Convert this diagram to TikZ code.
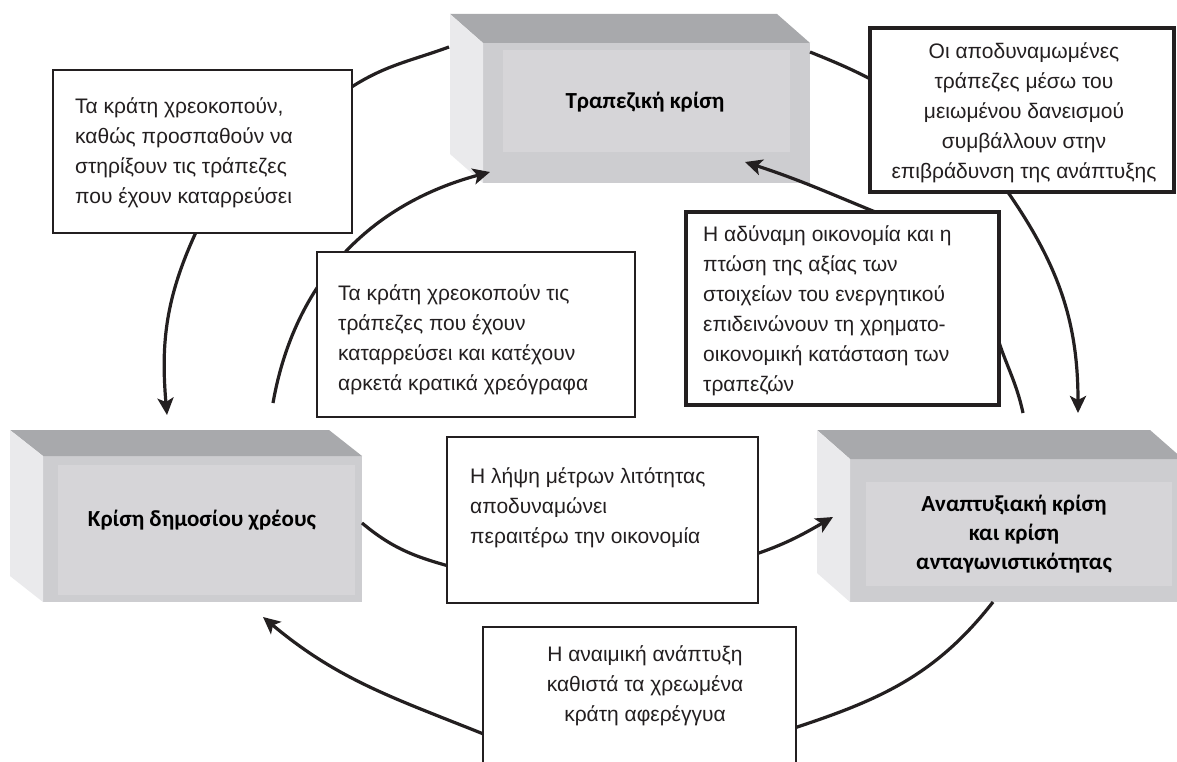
\documentclass[tikz,border=0pt]{standalone}
\usepackage{fontspec}
\setmainfont{Liberation Sans}
\newfontfamily\labelfont{Carlito}
\usetikzlibrary{arrows.meta,calc}
\definecolor{ink}{HTML}{231F20}
\definecolor{facegray}{HTML}{CDCDD0}
\definecolor{innergray}{HTML}{D6D5D8}
\definecolor{topgray}{HTML}{A8A9AC}
\definecolor{sidegray}{HTML}{EAEAEC}
\begin{document}
\begin{tikzpicture}[x=1pt,y=1pt,
  conn/.style={draw=ink, line width=3.2pt},
  arr/.style={conn, -{Stealth[length=17pt,width=16pt,inset=4pt]}},
  frame/.style={draw=ink, fill=white, line width=2.8pt, rectangle, inner sep=0pt, outer sep=0pt},
  thickframe/.style={frame, line width=4.5pt},
  body/.style={font=\fontsize{21}{30}\selectfont, text=ink, inner sep=0pt},
  face/.style={rectangle, fill=facegray, inner sep=0pt, outer sep=0pt},
  crisis/.style={font=\labelfont\bfseries\fontsize{23}{29}\selectfont, text=black, align=center, inner sep=0pt}
]
\path[use as bounding box, fill=white] (0,0) rectangle (1177,-762);

% ---- three crisis blocks (front face, top face, side face, inner panel) ----
\node[face, minimum width=327, minimum height=140] (bank) at (646.5,-113) {};
\fill[topgray] (bank.north west) -- ++(-33,29) -- ($(bank.north east)+(-33,29)$) -- (bank.north east) -- cycle;
\fill[sidegray] (bank.north west) -- ++(-33,29) -- ($(bank.south west)+(-33,29)$) -- (bank.south west) -- cycle;
\fill[innergray] ($(bank.north west)+(20,-7)$) rectangle ($(bank.south east)+(-20,31)$);
\node[crisis] (bankt) at (645,-102) {Τραπεζική κρίση};

\node[face, minimum width=319, minimum height=146] (debt) at (202.5,-529) {};
\fill[topgray] (debt.north west) -- ++(-33,26) -- ($(debt.north east)+(-33,26)$) -- (debt.north east) -- cycle;
\fill[sidegray] (debt.north west) -- ++(-33,26) -- ($(debt.south west)+(-33,26)$) -- (debt.south west) -- cycle;
\fill[innergray] ($(debt.north west)+(15,-9)$) rectangle ($(debt.south east)+(-7,7)$);
\node[crisis] (debtt) at (202,-520) {Κρίση δημοσίου χρέους};

\node[face, minimum width=333, minimum height=143] (growth) at (1016.5,-530.5) {};
\fill[topgray] (growth.north west) -- ++(-33,29) -- ($(growth.north east)+(-33,29)$) -- (growth.north east) -- cycle;
\fill[sidegray] (growth.north west) -- ++(-33,29) -- ($(growth.south west)+(-33,29)$) -- (growth.south west) -- cycle;
\fill[innergray] ($(growth.north west)+(16,-23)$) rectangle ($(growth.south east)+(-11,16)$);
\node[crisis] (growtht) at (1014,-534) {Αναπτυξιακή κρίση\\και κρίση\\ανταγωνιστικότητας};

% ---- the cycle of connectors ----
\coordinate (a0) at (350,-88);   \coordinate (a1) at (449,-47);
\coordinate (b0) at (197,-230);  \coordinate (b1) at (167,-415);
\coordinate (c0) at (273,-403);  \coordinate (c1) at (490,-172);
\coordinate (d0) at (810,-52);   \coordinate (d1) at (878,-83);
\coordinate (e0) at (1005,-188); \coordinate (e1) at (1078,-413);
\coordinate (f0) at (1023,-413); \coordinate (f1) at (993,-320);
\coordinate (f2) at (890,-218);  \coordinate (f3) at (745,-162);
\coordinate (g0) at (362,-523);  \coordinate (g1) at (456,-568);
\coordinate (g2) at (750,-556);  \coordinate (g3) at (833,-517);
\coordinate (h0) at (993,-602);  \coordinate (h1) at (788,-730);
\coordinate (h2) at (491,-737);  \coordinate (h3) at (263,-617);

\draw[conn] (a0) to[out=33,in=200] (a1);
\draw[arr] (b0) to[out=-115,in=95] (b1);
\draw[arr] (c0) to[out=80,in=195] (c1);
\draw[conn] (d0) to[out=-22,in=152] (d1);
\draw[arr] (e0) to[out=-55,in=90] (e1);
\draw[arr] (f0) to[out=102,in=-78] (f1) -- (f2) to[out=158,in=-18] (f3);
\draw[arr] (g0) to[out=-40,in=165] (g1) -- (g2) to[out=18,in=210] (g3);
\draw[arr] (h0) to[out=-128,in=18] (h1) -- (h2) to[out=158,in=-40] (h3);

% ---- explanatory boxes ----
\node[frame, minimum width=299, minimum height=163] (rescue) at (202.5,-151.5) {};
\node[body, align=left, anchor=west] (rescuet) at (75,-153)
  {Τα κράτη χρεοκοπούν,\\καθώς προσπαθούν να\\στηρίξουν τις τράπεζες\\που έχουν καταρρεύσει};

\node[frame, minimum width=318, minimum height=165] (bonds) at (476,-334.5) {};
\node[body, align=left, anchor=west] (bondst) at (338,-340)
  {Τα κράτη χρεοκοπούν τις\\τράπεζες που έχουν\\καταρρεύσει και κατέχουν\\αρκετά κρατικά χρεόγραφα};

\node[thickframe, minimum width=304, minimum height=164] (lending) at (1022,-110) {};
\node[body, align=center] (lendingt) at (1024,-113)
  {Οι αποδυναμωμένες\\τράπεζες μέσω του\\μειωμένου δανεισμού\\συμβάλλουν στην\\επιβράδυνση της ανάπτυξης};

\node[thickframe, minimum width=313, minimum height=193] (assets) at (842.5,-308.5) {};
\node[body, align=left, anchor=west] (assetst) at (703,-310.5)
  {Η αδύναμη οικονομία και η\\πτώση της αξίας των\\στοιχείων του ενεργητικού\\επιδεινώνουν τη χρηματο-\\οικονομική κατάσταση των\\τραπεζών};

\node[frame, minimum width=311, minimum height=166] (austerity) at (602.5,-520) {};
\node[body, align=left, anchor=west] (austerityt) at (470,-508)
  {Η λήψη μέτρων λιτότητας\\αποδυναμώνει\\περαιτέρω την οικονομία};

\node[frame, minimum width=313, minimum height=148] (anaemic) at (639.5,-701) {};
\node[body, align=center] (anaemict) at (645,-686)
  {Η αναιμική ανάπτυξη\\καθιστά τα χρεωμένα\\κράτη αφερέγγυα};
\end{tikzpicture}
\end{document}
